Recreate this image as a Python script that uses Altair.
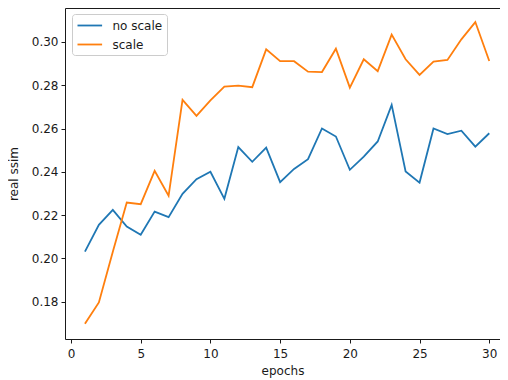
import altair as alt
import pandas as pd

epochs = list(range(1, 31))
no_scale = [0.2031, 0.2155, 0.2224, 0.2147, 0.2109, 0.2216, 0.2190, 0.2298, 0.2366, 0.2400,
            0.2275, 0.2514, 0.2446, 0.2512, 0.2352, 0.2413, 0.2458, 0.2600, 0.2563, 0.2409,
            0.2470, 0.2540, 0.2709, 0.2401, 0.2350, 0.2600, 0.2574, 0.2590, 0.2516, 0.2578]
scale = [0.1697, 0.1796, 0.2030, 0.2258, 0.2250, 0.2404, 0.2289, 0.2732, 0.2658, 0.2730,
         0.2794, 0.2798, 0.2791, 0.2966, 0.2911, 0.2911, 0.2863, 0.2861, 0.2969, 0.2789,
         0.2920, 0.2865, 0.3034, 0.2920, 0.2848, 0.2909, 0.2917, 0.3012, 0.3092, 0.2912]
series_names = ["no scale", "scale"]
colors = ["#1f77b4", "#ff7f0e"]
x_ticks = [0, 5, 10, 15, 20, 25, 30]
y_ticks = [0.18, 0.20, 0.22, 0.24, 0.26, 0.28, 0.30]

df = pd.concat([
    pd.DataFrame({"epoch": epochs, "ssim": no_scale, "series": series_names[0], "order": 0}),
    pd.DataFrame({"epoch": epochs, "ssim": scale, "series": series_names[1], "order": 1}),
])

FONT = "DejaVu Sans"
TXT = "#1a1a1a"

chart = alt.Chart(df).mark_line(strokeWidth=1.8).encode(
    x=alt.X("epoch:Q",
            scale=alt.Scale(domain=[-0.43, 30.77], nice=False, zero=False),
            axis=alt.Axis(title="epochs", values=x_ticks, format="d", grid=False,
                          domain=False, tickSize=4, tickColor=TXT, labelPadding=5,
                          labelFontSize=12, titleFontSize=12, titleFontWeight="normal",
                          titlePadding=6, labelColor=TXT, titleColor=TXT)),
    y=alt.Y("ssim:Q",
            scale=alt.Scale(domain=[0.1627, 0.3157], nice=False, zero=False),
            axis=alt.Axis(title="real ssim", values=y_ticks, format=".2f", grid=False,
                          domain=False, tickSize=4, tickColor=TXT, labelPadding=3,
                          labelFontSize=12, titleFontSize=12, titleFontWeight="normal",
                          titlePadding=11, labelColor=TXT, titleColor=TXT)),
    color=alt.Color("series:N",
                    scale=alt.Scale(domain=series_names, range=colors),
                    legend=alt.Legend(title=None, orient="none", legendX=7, legendY=6,
                                      symbolType="M-1,0L3.1,0", symbolSize=144,
                                      symbolStrokeWidth=1.8, symbolFillColor="transparent",
                                      labelFontSize=12,
                                      labelColor=TXT, labelOffset=22, rowPadding=6,
                                      padding=4.5, fillColor="white",
                                      strokeColor="#cccccc", cornerRadius=3)),
    order="order:Q",
).properties(
    width=435, height=331,
    autosize=alt.AutoSizeParams(type="none"),
    padding={"left": 57, "top": 0, "right": 0, "bottom": 41},
).configure(font=FONT).configure_view(stroke=TXT, strokeWidth=1)

chart.save("out.html", embed_options={"renderer": "svg", "actions": False})
